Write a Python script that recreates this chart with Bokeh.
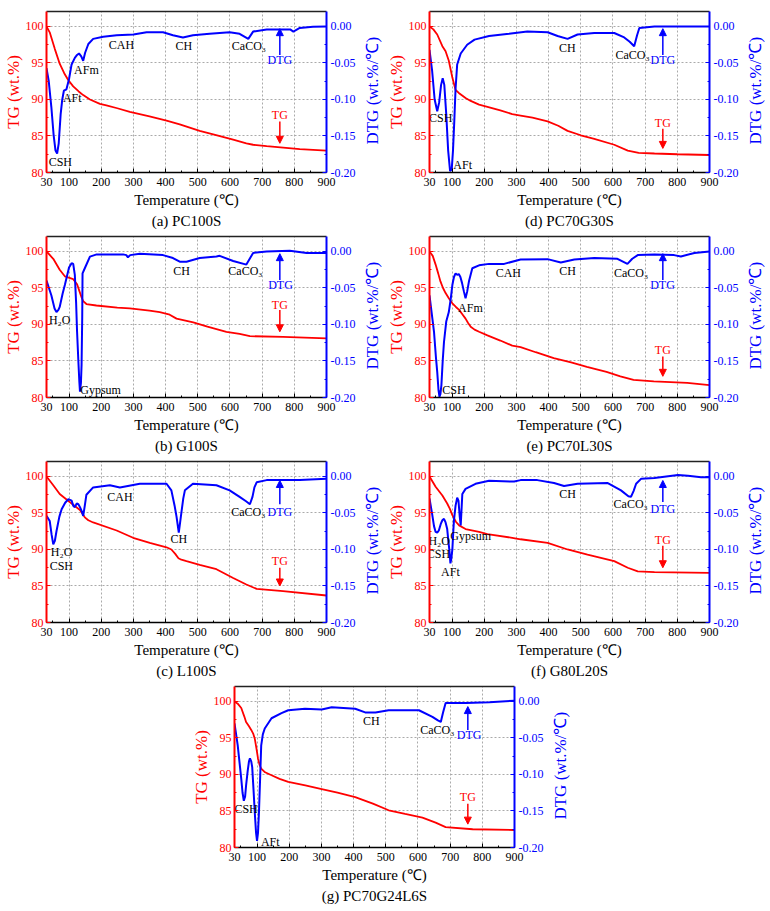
import math
from bokeh.plotting import figure
from bokeh.models import (Range1d, LinearAxis, FixedTicker, PrintfTickFormatter,
                          Title, Arrow, NormalHead, Spacer)
from bokeh.layouts import row, column
from bokeh.embed import file_html
from bokeh.resources import INLINE
from bokeh.core.properties import value

FONT = "Liberation Serif"
RED = "#ff0000"
BLUE = "#0000ff"

# ---------------- data ----------------
temp_ticks = [30, 100, 200, 300, 400, 500, 600, 700, 800, 900]
temp_minor = [50, 150, 250, 350, 450, 550, 650, 750, 850]
tg_ticks = [80, 85, 90, 95, 100]
tg_minor = [82.5, 87.5, 92.5, 97.5]
dtg_ticks = [-0.20, -0.15, -0.10, -0.05, 0.00]
dtg_minor = [-0.175, -0.125, -0.075, -0.025]

# (a) PC100S
a_tg_t = [30, 40, 56, 71, 85, 97, 113, 130, 144, 165, 196, 216, 250, 289, 350, 403, 444, 506, 560, 610, 651, 672, 714, 817, 900]
a_tg = [100, 99.2, 96.9, 94.9, 93.6, 92.7, 91.8, 91.1, 90.6, 90.0, 89.4, 89.2, 88.8, 88.3, 87.7, 87.1, 86.6, 85.7, 85.1, 84.5, 84.0, 83.8, 83.6, 83.2, 83.0]
a_dtg_t = [30, 37, 45, 52, 58, 63, 68, 74, 79, 84, 92, 100, 108, 118, 125, 131, 138, 144, 150, 160, 175, 206, 248, 300, 341, 392, 423, 454, 485, 537, 599, 630, 657, 672, 714, 787, 797, 817, 858, 900]
a_dtg = [-0.057, -0.075, -0.110, -0.148, -0.170, -0.174, -0.160, -0.120, -0.100, -0.088, -0.086, -0.072, -0.052, -0.043, -0.039, -0.037, -0.041, -0.047, -0.036, -0.024, -0.017, -0.014, -0.012, -0.011, -0.008, -0.008, -0.012, -0.015, -0.012, -0.010, -0.008, -0.010, -0.017, -0.007, -0.004, -0.004, -0.007, -0.002, -0.0005, 0.0]

# (d) PC70G30S
d_tg_t = [30, 42, 54, 70, 80, 90, 101, 111, 121, 142, 158, 184, 210, 250, 287, 313, 350, 397, 430, 459, 500, 542, 604, 646, 680, 729, 800, 900]
d_tg = [100, 99.6, 98.9, 97.3, 96.6, 95.3, 93.0, 91.3, 90.9, 90.2, 89.8, 89.3, 89.0, 88.5, 88.0, 87.8, 87.5, 87.0, 86.4, 85.7, 85.1, 84.6, 83.8, 83.0, 82.7, 82.6, 82.5, 82.4]
d_dtg_t = [30, 38, 46, 54, 60, 66, 71, 76, 82, 88, 94, 99, 103, 107, 111, 116, 127, 147, 170, 215, 277, 334, 397, 428, 459, 490, 542, 604, 635, 652, 666, 675, 682, 729, 800, 900]
d_dtg = [-0.032, -0.060, -0.100, -0.116, -0.104, -0.080, -0.071, -0.080, -0.120, -0.170, -0.198, -0.196, -0.170, -0.130, -0.085, -0.052, -0.037, -0.025, -0.018, -0.013, -0.010, -0.007, -0.008, -0.013, -0.017, -0.011, -0.009, -0.009, -0.015, -0.021, -0.027, -0.012, -0.002, 0.0, 0.0, 0.0]

# (b) G100S
b_tg_t = [30, 51, 71, 87, 113, 125, 132, 139, 144, 154, 185, 250, 289, 350, 382, 410, 434, 486, 530, 589, 630, 662, 765, 900]
b_tg = [100, 99.0, 97.5, 96.6, 96.2, 95.5, 94.6, 93.7, 93.2, 92.8, 92.6, 92.3, 92.2, 91.9, 91.7, 91.4, 90.8, 90.3, 89.7, 89.0, 88.7, 88.4, 88.3, 88.1]
b_dtg_t = [30, 45, 55, 61, 67, 71, 80, 87, 100, 108, 113, 118, 122, 125, 129, 132, 134, 137, 139, 141, 142, 149, 165, 186, 268, 278, 283, 290, 320, 392, 423, 444, 465, 506, 558, 568, 610, 651, 672, 714, 786, 838, 900]
b_dtg = [-0.040, -0.060, -0.078, -0.083, -0.080, -0.076, -0.058, -0.046, -0.022, -0.016, -0.017, -0.032, -0.070, -0.110, -0.150, -0.178, -0.192, -0.180, -0.155, -0.090, -0.030, -0.023, -0.007, -0.004, -0.004, -0.005, -0.008, -0.005, -0.003, -0.005, -0.009, -0.014, -0.014, -0.009, -0.007, -0.006, -0.013, -0.018, -0.002, 0.0, 0.001, -0.002, -0.002]

# (e) PC70L30S
e_tg_t = [30, 40, 49, 57, 64, 72, 80, 90, 101, 112, 122, 132, 142, 150, 158, 170, 184, 210, 250, 287, 313, 360, 416, 470, 519, 580, 623, 664, 727, 831, 900]
e_tg = [100, 99.4, 98.2, 97.0, 95.9, 95.0, 94.3, 93.6, 92.9, 92.4, 92.0, 91.4, 90.8, 90.2, 89.7, 89.3, 89.0, 88.5, 87.8, 87.1, 86.9, 86.2, 85.4, 84.8, 84.2, 83.5, 82.9, 82.4, 82.2, 82.0, 81.7]
e_dtg_t = [30, 37, 44, 50, 54, 58, 61, 64, 67, 71, 75, 82, 90, 96, 101, 106, 111, 116, 121, 126, 131, 137, 142, 147, 153, 163, 184, 215, 262, 313, 397, 438, 480, 542, 614, 645, 660, 677, 729, 790, 811, 853, 900]
e_dtg = [-0.060, -0.085, -0.110, -0.145, -0.165, -0.190, -0.199, -0.195, -0.183, -0.150, -0.124, -0.096, -0.083, -0.065, -0.046, -0.035, -0.030, -0.032, -0.031, -0.035, -0.043, -0.055, -0.064, -0.055, -0.040, -0.023, -0.019, -0.017, -0.017, -0.011, -0.0105, -0.015, -0.011, -0.009, -0.010, -0.017, -0.010, -0.005, -0.004, -0.005, -0.007, -0.002, 0.0]

# (c) L100S
c_tg_t = [30, 51, 71, 102, 134, 149, 160, 175, 248, 299, 351, 403, 418, 430, 440, 449, 465, 506, 558, 610, 651, 683, 765, 900]
c_tg = [100, 98.8, 97.6, 96.5, 95.4, 94.4, 94.0, 93.7, 92.6, 91.6, 90.9, 90.3, 90.0, 89.4, 88.8, 88.6, 88.4, 87.9, 87.3, 86.1, 85.2, 84.6, 84.3, 83.7]
c_dtg_t = [30, 40, 46, 51, 56, 61, 70, 77, 88, 98, 108, 113, 118, 124, 129, 134, 139, 144, 149, 154, 175, 227, 258, 320, 403, 418, 428, 434, 441, 446, 449, 455, 460, 485, 558, 599, 630, 650, 662, 670, 676, 683, 714, 817, 900]
c_dtg = [-0.054, -0.061, -0.080, -0.093, -0.088, -0.075, -0.055, -0.045, -0.036, -0.031, -0.033, -0.040, -0.042, -0.037, -0.038, -0.042, -0.047, -0.054, -0.040, -0.025, -0.015, -0.012, -0.015, -0.010, -0.010, -0.019, -0.040, -0.055, -0.077, -0.060, -0.050, -0.030, -0.019, -0.010, -0.012, -0.019, -0.028, -0.034, -0.038, -0.028, -0.015, -0.008, -0.005, -0.005, -0.003]

# (f) G80L20S
f_tg_t = [30, 49, 70, 85, 93, 101, 112, 122, 142, 184, 210, 287, 313, 397, 459, 521, 604, 646, 677, 729, 900]
f_tg = [100, 98.6, 97.4, 96.3, 95.6, 94.7, 93.8, 93.3, 92.8, 92.4, 92.1, 91.6, 91.4, 90.9, 90.0, 89.3, 88.4, 87.5, 87.0, 86.9, 86.8]
f_dtg_t = [30, 38, 44, 49, 54, 59, 65, 70, 75, 80, 85, 89, 92, 95, 98, 101, 104, 106, 111, 116, 120, 124, 127, 129, 132, 142, 173, 215, 293, 313, 365, 417, 448, 490, 584, 625, 648, 656, 664, 672, 688, 729, 802, 833, 874, 900]
f_dtg = [-0.030, -0.051, -0.068, -0.076, -0.077, -0.074, -0.065, -0.060, -0.058, -0.063, -0.072, -0.090, -0.102, -0.119, -0.112, -0.100, -0.075, -0.060, -0.040, -0.029, -0.033, -0.055, -0.067, -0.050, -0.024, -0.017, -0.010, -0.006, -0.007, -0.005, -0.005, -0.009, -0.013, -0.010, -0.009, -0.019, -0.027, -0.028, -0.020, -0.010, -0.003, -0.002, 0.002, 0.001, -0.001, -0.001]

# (g) PC70G24L6S
g_tg_t = [30, 40, 51, 60, 66, 75, 82, 88, 93, 98, 103, 108, 113, 125, 145, 170, 197, 250, 301, 350, 405, 460, 509, 560, 614, 655, 686, 770, 900]
g_tg = [100, 99.7, 99.1, 98.0, 97.2, 96.6, 96.1, 95.6, 94.9, 93.6, 92.2, 91.3, 90.8, 90.3, 89.9, 89.4, 89.0, 88.5, 88.0, 87.5, 86.9, 86.0, 85.1, 84.6, 84.1, 83.4, 82.8, 82.5, 82.4]
g_dtg_t = [30, 35, 40, 46, 51, 55, 59, 63, 66, 71, 75, 78, 82, 85, 89, 93, 97, 100, 103, 106, 110, 113, 118, 124, 145, 176, 197, 249, 301, 332, 405, 436, 468, 509, 603, 645, 662, 671, 678, 686, 749, 822, 900]
g_dtg = [-0.030, -0.045, -0.060, -0.085, -0.106, -0.125, -0.136, -0.130, -0.115, -0.095, -0.082, -0.078, -0.082, -0.090, -0.120, -0.152, -0.180, -0.191, -0.180, -0.152, -0.100, -0.060, -0.045, -0.037, -0.023, -0.016, -0.012, -0.010, -0.011, -0.008, -0.010, -0.015, -0.015, -0.012, -0.012, -0.021, -0.026, -0.028, -0.015, -0.002, -0.002, -0.001, 0.001]

captions = ["(a) PC100S", "(d) PC70G30S", "(b) G100S", "(e) PC70L30S",
            "(c) L100S", "(f) G80L20S", "(g) PC70G24L6S"]
tg_axis_label = "TG (wt.%)"
dtg_axis_label = "DTG (wt.%/℃)"
temp_axis_label = "Temperature (℃)"

# annotation texts: (text, temperature, TG-scale height, colour key)
labels = {
    "a": [("CSH", 73, 81.5, "k"), ("AFt", 110, 90.2, "k"), ("AFm", 154, 94.1, "k"),
          ("CAH", 263, 97.5, "k"), ("CH", 457, 97.3, "k"), ("CaCO₃", 659, 97.3, "k"),
          ("DTG", 755, 95.4, "b"), ("TG", 755, 87.9, "r")],
    "d": [("CSH", 65, 87.4, "k"), ("AFt", 133, 81.05, "k"), ("CH", 458, 97.0, "k"),
          ("CaCO₃", 661, 96.1, "k"), ("DTG", 755, 95.4, "b"), ("TG", 755, 86.8, "r")],
    "b": [("H₂O", 71, 90.6, "k"), ("Gypsum", 198, 81.05, "k"), ("CH", 450, 97.3, "k"),
          ("CaCO₃", 648, 97.3, "k"), ("DTG", 757, 95.4, "b"), ("TG", 755, 92.7, "r")],
    "e": [("AFm", 157, 92.2, "k"), ("CSH", 106, 81.05, "k"), ("CAH", 275, 97.0, "k"),
          ("CH", 459, 97.3, "k"), ("CaCO₃", 656, 97.0, "k"), ("DTG", 754, 95.4, "b"),
          ("TG", 755, 86.5, "r")],
    "c": [("H₂O", 77, 89.6, "k"), ("CSH", 76, 87.7, "k"), ("CAH", 258, 97.2, "k"),
          ("CH", 441, 91.4, "k"), ("CaCO₃", 657, 95.1, "k"), ("DTG", 755, 95.1, "b"),
          ("TG", 755, 88.4, "r")],
    "f": [("H₂O", 60, 91.1, "k"), ("CSH", 58, 89.4, "k"), ("AFt", 95, 86.9, "k"),
          ("Gypsum", 158, 91.9, "k"), ("CH", 459, 97.6, "k"), ("CaCO₃", 655, 96.2, "k"),
          ("DTG", 755, 95.5, "b"), ("TG", 755, 91.3, "r")],
    "g": [("CSH", 66, 85.3, "k"), ("AFt", 141, 80.7, "k"), ("CH", 455, 97.3, "k"),
          ("CaCO₃", 660, 96.1, "k"), ("DTG", 759, 95.4, "b"), ("TG", 755, 86.9, "r")],
}
# arrows: (dtg start, dtg end, tg start, tg end) at T = 755
arrows = {
    "a": (96.1, 99.7, 87.0, 84.0),
    "d": (96.1, 99.7, 86.0, 83.3),
    "b": (96.1, 99.7, 92.0, 89.0),
    "e": (96.1, 99.7, 85.6, 82.9),
    "c": (96.2, 99.45, 87.5, 85.0),
    "f": (96.5, 99.45, 90.5, 87.5),
    "g": (96.1, 99.3, 86.0, 83.2),
}
ARROW_T = 755

COLORS = {"k": "black", "b": BLUE, "r": RED}

FRAME_W, FRAME_H = 280, 161
TOP, BOTTOM = 4, 60
Y0, Y1 = 80, 102.05


def make_panel(key, caption, tg_t, tg, dtg_t, dtg):
    p = figure(frame_width=FRAME_W, frame_height=FRAME_H,
               x_range=Range1d(30, 900), y_range=Range1d(Y0, Y1),
               output_backend="svg", toolbar_location=None,
               min_border_left=41, min_border_right=35,
               min_border_top=TOP, min_border_bottom=BOTTOM,
               x_axis_label=temp_axis_label, y_axis_label=tg_axis_label)
    p.outline_line_color = None
    p.extra_y_ranges = {"dtg": Range1d(-0.2, 0.0205)}

    # bottom axis
    xa = p.xaxis[0]
    xa.ticker = FixedTicker(ticks=temp_ticks, minor_ticks=temp_minor)
    xa.axis_line_color = "black"
    xa.axis_line_width = 1.5
    xa.major_tick_in = 4
    xa.major_tick_out = 0
    xa.minor_tick_in = 2
    xa.minor_tick_out = 0
    xa.major_label_standoff = 5
    xa.axis_label_standoff = 3
    xa.major_label_text_font = FONT
    xa.major_label_text_font_size = "12px"
    xa.major_label_text_color = "black"
    xa.axis_label_text_font = FONT
    xa.axis_label_text_font_size = "15px"
    xa.axis_label_text_font_style = "normal"
    xa.axis_label_text_color = "black"

    # left axis (TG)
    ya = p.yaxis[0]
    ya.ticker = FixedTicker(ticks=tg_ticks, minor_ticks=tg_minor)
    ya.axis_line_color = RED
    ya.axis_line_width = 2
    ya.major_tick_line_color = RED
    ya.minor_tick_line_color = RED
    ya.major_tick_in = 4
    ya.major_tick_out = 0
    ya.minor_tick_in = 2
    ya.minor_tick_out = 0
    ya.major_label_standoff = 3
    ya.axis_label_standoff = 0
    ya.major_label_text_font = FONT
    ya.major_label_text_font_size = "12px"
    ya.major_label_text_color = RED
    ya.axis_label_text_font = FONT
    ya.axis_label_text_font_size = "17px"
    ya.axis_label_text_font_style = "normal"
    ya.axis_label_text_color = RED

    # right axis (DTG) - its title is drawn by the narrow strip figure beside it
    ra = LinearAxis(y_range_name="dtg")
    ra.ticker = FixedTicker(ticks=dtg_ticks, minor_ticks=dtg_minor)
    ra.formatter = PrintfTickFormatter(format="%.2f")
    ra.axis_line_color = BLUE
    ra.axis_line_width = 2
    ra.major_tick_line_color = BLUE
    ra.minor_tick_line_color = BLUE
    ra.major_tick_in = 4
    ra.major_tick_out = 0
    ra.minor_tick_in = 2
    ra.minor_tick_out = 0
    ra.major_label_standoff = 4
    ra.major_label_text_font = FONT
    ra.major_label_text_font_size = "12px"
    ra.major_label_text_color = BLUE
    p.add_layout(ra, "right")

    # top border line
    ta = LinearAxis(ticker=FixedTicker(ticks=[]))
    ta.axis_line_color = "#222222"
    ta.axis_line_width = 1.5
    ta.major_tick_out = 0
    ta.major_tick_in = 0
    ta.minor_tick_out = 0
    ta.minor_tick_in = 0
    ta.major_label_standoff = 0
    p.add_layout(ta, "above")

    # grids
    for g in (p.xgrid[0], p.ygrid[0]):
        g.grid_line_color = "#aaaaaa"
        g.grid_line_dash = "2 2"
        g.grid_line_width = 1

    # curves
    p.line(tg_t, tg, line_color=RED, line_width=1.8)
    p.line(dtg_t, dtg, line_color=BLUE, line_width=2, y_range_name="dtg")

    # annotations
    labs = labels[key]
    p.text(x=[l[1] for l in labs], y=[l[2] for l in labs], text=[l[0] for l in labs],
           text_color=[COLORS[l[3]] for l in labs],
           text_font=value(FONT), text_font_size="12px",
           text_align="center", text_baseline="middle")
    d0, d1, t0, t1 = arrows[key]
    p.add_layout(Arrow(end=NormalHead(size=7, fill_color=BLUE, line_color=BLUE),
                       x_start=ARROW_T, y_start=d0, x_end=ARROW_T, y_end=d1,
                       line_color=BLUE, line_width=1.5))
    p.add_layout(Arrow(end=NormalHead(size=7, fill_color=RED, line_color=RED),
                       x_start=ARROW_T, y_start=t0, x_end=ARROW_T, y_end=t1,
                       line_color=RED, line_width=1.5))

    # caption
    p.add_layout(Title(text=caption, align="center", text_font=FONT,
                       text_font_size="15px", text_font_style="normal",
                       text_color="black", standoff=0), "below")
    return p


def dtg_title_strip():
    s = figure(frame_width=22, frame_height=FRAME_H,
               x_range=Range1d(0, 1), y_range=Range1d(Y0, Y1),
               output_backend="svg", toolbar_location=None,
               x_axis_type=None, y_axis_type=None,
               min_border_left=0, min_border_right=0,
               min_border_top=TOP, min_border_bottom=BOTTOM)
    s.outline_line_color = None
    s.grid.visible = False
    s.text(x=[0.5], y=[91.2], text=[dtg_axis_label], angle=math.pi / 2,
           text_color=BLUE, text_font=value(FONT), text_font_size="17px",
           text_align="center", text_baseline="middle")
    return s


pa = make_panel("a", captions[0], a_tg_t, a_tg, a_dtg_t, a_dtg)
pd = make_panel("d", captions[1], d_tg_t, d_tg, d_dtg_t, d_dtg)
pb = make_panel("b", captions[2], b_tg_t, b_tg, b_dtg_t, b_dtg)
pe = make_panel("e", captions[3], e_tg_t, e_tg, e_dtg_t, e_dtg)
pc = make_panel("c", captions[4], c_tg_t, c_tg, c_dtg_t, c_dtg)
pf = make_panel("f", captions[5], f_tg_t, f_tg, f_dtg_t, f_dtg)
pg = make_panel("g", captions[6], g_tg_t, g_tg, g_dtg_t, g_dtg)

layout = column(
    Spacer(width=10, height=7),
    row(pa, dtg_title_strip(), pd, dtg_title_strip()),
    row(pb, dtg_title_strip(), pe, dtg_title_strip()),
    row(pc, dtg_title_strip(), pf, dtg_title_strip()),
    row(Spacer(width=188, height=10), pg, dtg_title_strip()),
)

open("out.html", "w").write(file_html(layout, INLINE))
